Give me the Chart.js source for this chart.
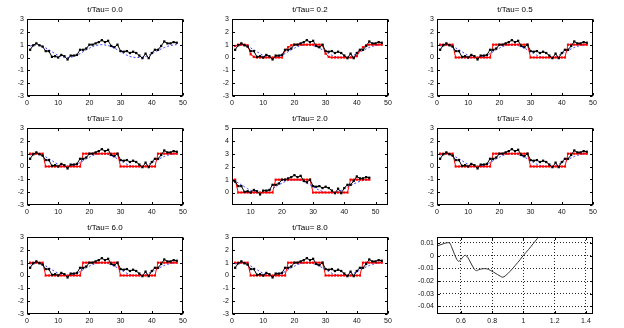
<!DOCTYPE html>
<html>
<head>
<meta charset="utf-8">
<script src="https://cdn.jsdelivr.net/npm/chart.js@4.4.1/dist/chart.umd.min.js"></script>
<style>
  html, body { margin: 0; padding: 0; background: #fff; }
  #grid { position: relative; width: 624px; height: 328px; overflow: hidden; }
  #grid canvas { position: absolute; }
</style>
</head>
<body>
<div id="grid"></div>
<script>
// sample index along the line
const sampleIdx = [1, 2, 3, 4, 5, 6, 7, 8, 9, 10, 11, 12, 13, 14, 15, 16, 17, 18, 19, 20, 21, 22, 23, 24,
  25, 26, 27, 28, 29, 30, 31, 32, 33, 34, 35, 36, 37, 38, 39, 40, 41, 42, 43, 44, 45, 46, 47, 48];

// noisy measurements (black dots)
const measured = [0.6, 0.95, 1.1, 0.95, 0.85, 0.5, 0.5, 0.05, 0.1, 0.0, 0.2, 0.1, -0.15, 0.15, 0.15, 0.2,
  0.6, 0.6, 0.7, 1.0, 1.0, 1.1, 1.2, 1.35, 1.2, 1.3, 0.9, 0.8, 1.0, 0.5, 0.45, 0.5,
  0.35, 0.45, 0.35, 0.15, -0.05, 0.3, -0.05, 0.35, 0.6, 0.6, 0.9, 1.25, 1.1, 1.1, 1.2, 1.15];

// smooth underlying profile (blue dotted)
const profile = [0.9, 0.95, 0.98, 0.95, 0.88, 0.75, 0.6, 0.45, 0.3, 0.17, 0.08, 0.02, 0.0, 0.02, 0.08, 0.17,
  0.3, 0.45, 0.6, 0.73, 0.85, 0.93, 0.98, 1.0, 0.98, 0.93, 0.85, 0.73, 0.6, 0.45, 0.3, 0.18,
  0.08, 0.02, 0.0, 0.0, 0.02, 0.08, 0.17, 0.3, 0.42, 0.55, 0.67, 0.78, 0.87, 0.93, 0.98, 1.0];

// restored signal, early stage (red)
const restoredEarly = [0.9, 1.0, 1.0, 1.0, 0.95, 0.25, 0.05, 0.0, 0.0, 0.0, 0.0, 0.0, 0.0, 0.0, 0.0, 0.0,
  0.55, 0.8, 0.95, 1.0, 1.0, 1.0, 1.0, 1.0, 1.0, 1.0, 1.0, 1.0, 0.95, 0.3, 0.05, 0.0,
  0.0, 0.0, 0.0, 0.0, 0.0, 0.0, 0.0, 0.1, 0.55, 0.8, 0.95, 1.0, 1.0, 1.0, 1.0, 1.0];

// restored signal, converged (red)
const restoredStep = [1, 1, 1, 1, 1, 0, 0, 0, 0, 0, 0, 0, 0, 0, 0, 0,
  0, 1, 1, 1, 1, 1, 1, 1, 1, 1, 1, 1, 1, 0, 0, 0,
  0, 0, 0, 0, 0, 0, 0, 0, 0, 1, 1, 1, 1, 1, 1, 1];

const panelTitles = ['t/Tau= 0.0', 't/Tau= 0.2', 't/Tau= 0.5', 't/Tau= 1.0',
  't/Tau= 2.0', 't/Tau= 4.0', 't/Tau= 6.0', 't/Tau= 8.0'];
const panelRestored = [null, restoredEarly, restoredStep, restoredStep,
  restoredStep, restoredStep, restoredStep, restoredStep];

const xTicks = [0, 10, 20, 30, 40, 50];
const yTicks = [-3, -2, -1, 0, 1, 2, 3];
const yTicksWide = [0, 1, 2, 3, 4, 5];

// last panel: error curve
const errX = [0.451, 0.479, 0.506, 0.528, 0.543, 0.56, 0.574, 0.585, 0.6, 0.617, 0.628, 0.643, 0.66, 0.681,
  0.696, 0.713, 0.734, 0.766, 0.787, 0.809, 0.834, 0.855, 0.868, 0.883, 0.915, 0.947, 0.979, 1.0,
  1.032, 1.064, 1.091, 1.11];
const errY = [0.0078, 0.009, 0.010, 0.0099, 0.006, 0.0008, -0.003, -0.0045, -0.003, -0.0005, 0.0003, -0.0013,
  -0.005, -0.0097, -0.0118, -0.0112, -0.0104, -0.0104, -0.0115, -0.013, -0.0149, -0.0164, -0.017,
  -0.016, -0.0123, -0.0078, -0.0031, 0.0003, 0.0047, 0.0097, 0.0138, 0.0168];
const errXTicks = [0.6, 0.8, 1, 1.2, 1.4];
const errYTicks = [-0.04, -0.03, -0.02, -0.01, 0, 0.01];

const FONT = '"Liberation Sans", Arial, sans-serif';
const CW = 205, CH = 109;

// box around the axes, inward ticks on all four sides, and the title
const boxPlugin = {
  id: 'matlabBox',
  afterDraw(chart, args, opts) {
    const { ctx, chartArea: a, scales } = chart;
    const l = Math.round(a.left) + 0.5, r = Math.round(a.right) - 0.5;
    const t = Math.round(a.top) + 0.5, b = Math.round(a.bottom) - 0.5;
    const len = 2.5;
    ctx.save();
    ctx.strokeStyle = '#000';
    ctx.lineWidth = 1;
    ctx.strokeRect(l, t, r - l, b - t);
    ctx.beginPath();
    scales.x.ticks.forEach(tk => {
      const px = Math.round(scales.x.getPixelForValue(tk.value)) + 0.5;
      ctx.moveTo(px, b); ctx.lineTo(px, b - len);
      ctx.moveTo(px, t); ctx.lineTo(px, t + len);
    });
    scales.y.ticks.forEach(tk => {
      const py = Math.round(scales.y.getPixelForValue(tk.value)) + 0.5;
      ctx.moveTo(l, py); ctx.lineTo(l + len, py);
      ctx.moveTo(r, py); ctx.lineTo(r - len, py);
    });
    ctx.stroke();
    if (opts.text) {
      ctx.fillStyle = '#000';
      ctx.font = '8px ' + FONT;
      ctx.textAlign = 'center';
      ctx.textBaseline = 'middle';
      ctx.fillText(opts.text, (a.left + a.right) / 2, a.top - 9);
    }
    ctx.restore();
  }
};

function axis(min, max, ticks, isX, gridOn) {
  return {
    type: 'linear',
    min, max,
    // only the ticks that fall inside the axis limits
    afterBuildTicks: s => {
      s.ticks = ticks.filter(v => v >= min && v <= max).map(v => ({ value: v }));
    },
    afterFit: s => { if (isX) s.height = 13; else s.width = 27; },
    grid: gridOn
      ? { display: true, drawTicks: false, color: 'rgba(0,0,0,0.85)', lineWidth: 1 }
      : { display: false, drawTicks: false },
    border: gridOn ? { display: false, dash: [1, 2] } : { display: false },
    ticks: {
      padding: 3,
      color: '#111',
      font: { family: FONT, size: 7 },
      maxRotation: 0,
      autoSkip: false,
      callback: v => String(v)
    }
  };
}

function makeCanvas(col, row) {
  const c = document.createElement('canvas');
  c.width = CW; c.height = CH;
  c.style.left = (col * CW) + 'px';
  c.style.top = (row * CH) + 'px';
  document.getElementById('grid').appendChild(c);
  return c;
}

const baseOptions = {
  responsive: false,
  animation: false,
  events: [],
  layout: { padding: { top: 19, right: 22, bottom: 0, left: 0 } },
  plugins: { legend: { display: false }, tooltip: { enabled: false } }
};

const toXY = ys => sampleIdx.map((x, i) => ({ x, y: ys[i] }));

panelTitles.forEach((title, i) => {
  const wide = i === 4;
  const datasets = [
    {
      data: toXY(measured),
      borderColor: '#000', backgroundColor: '#000',
      borderWidth: 1, pointStyle: 'rect', pointRadius: 1.6, pointBorderWidth: 0, tension: 0, order: 0
    },
    {
      data: toXY(profile),
      borderColor: '#3a3aff', borderWidth: 1, borderDash: [2, 2],
      pointRadius: 0, tension: 0, order: 2
    }
  ];
  if (panelRestored[i]) {
    datasets.push({
      data: toXY(panelRestored[i]),
      borderColor: '#ff0000', backgroundColor: '#ff0000',
      borderWidth: 1, pointStyle: 'rect', pointRadius: 1.6, pointBorderWidth: 0, tension: 0, order: 1
    });
  }
  new Chart(makeCanvas(i % 3, Math.floor(i / 3)), {
    type: 'line',
    data: { datasets },
    options: {
      ...baseOptions,
      scales: {
        x: axis(wide ? 4 : 0, wide ? 54 : 50, xTicks, true, false),
        y: axis(wide ? -0.97 : -3, wide ? 5.02 : 3, wide ? yTicksWide : yTicks, false, false)
      },
      plugins: { ...baseOptions.plugins, matlabBox: { text: title } }
    },
    plugins: [boxPlugin]
  });
});

// error curve with dotted grid
new Chart(makeCanvas(2, 2), {
  type: 'line',
  data: {
    datasets: [{
      data: errX.map((x, i) => ({ x, y: errY[i] })),
      borderColor: '#333', borderWidth: 1, pointRadius: 0, tension: 0.35
    }]
  },
  options: {
    ...baseOptions,
    scales: {
      x: axis(0.447, 1.445, errXTicks, true, true),
      y: axis(-0.046, 0.0147, errYTicks, false, true)
    },
    plugins: { ...baseOptions.plugins, matlabBox: { text: '' } }
  },
  plugins: [boxPlugin]
});
</script>
</body>
</html>
